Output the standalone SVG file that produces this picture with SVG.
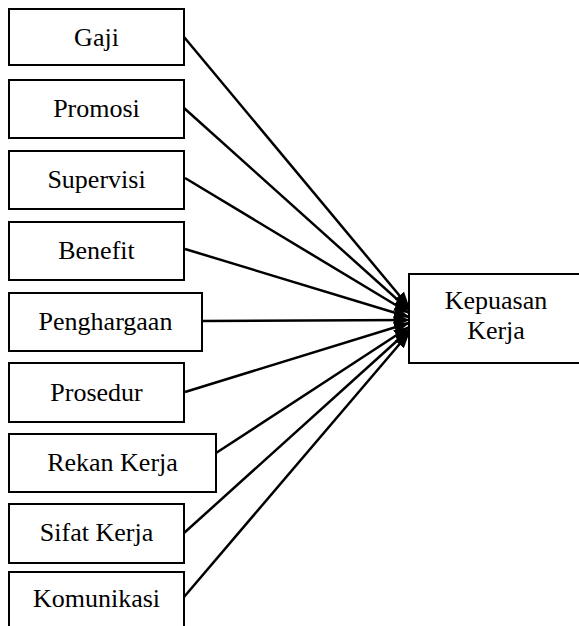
<svg xmlns="http://www.w3.org/2000/svg" width="579" height="626" viewBox="0 0 579 626">
<style>
.box{fill:#fff;stroke:#000;stroke-width:2}
.lbl{font-family:"Liberation Serif","Times New Roman",serif;font-size:26px;fill:#000;text-anchor:middle}
.con{stroke:#000;stroke-width:2.5;fill:none}
</style>
<defs>
<marker id="ah" markerUnits="userSpaceOnUse" markerWidth="16" markerHeight="12" refX="15" refY="6" orient="auto">
<path d="M0,0 L16,6 L0,12 Z" fill="#000"/>
</marker>
</defs>
<rect width="579" height="626" fill="#fff"/>
<g id="connectors">
<line class="con" x1="184" y1="37" x2="409" y2="307" marker-end="url(#ah)"/>
<line class="con" x1="184" y1="108" x2="409" y2="310" marker-end="url(#ah)"/>
<line class="con" x1="185" y1="178" x2="409" y2="313" marker-end="url(#ah)"/>
<line class="con" x1="185" y1="249" x2="409" y2="317" marker-end="url(#ah)"/>
<line class="con" x1="202" y1="321" x2="409" y2="320" marker-end="url(#ah)"/>
<line class="con" x1="185" y1="392" x2="409" y2="323" marker-end="url(#ah)"/>
<line class="con" x1="216" y1="453" x2="409" y2="327" marker-end="url(#ah)"/>
<line class="con" x1="184" y1="533" x2="409" y2="330" marker-end="url(#ah)"/>
<line class="con" x1="184" y1="597" x2="409" y2="333" marker-end="url(#ah)"/>
</g>
<g id="gaji"><rect class="box" x="9" y="9" width="175" height="56"/><text class="lbl" x="96.5" y="46">Gaji</text></g>
<g id="promosi"><rect class="box" x="9" y="80" width="175" height="58"/><text class="lbl" x="96.5" y="117">Promosi</text></g>
<g id="supervisi"><rect class="box" x="9" y="151" width="175" height="58"/><text class="lbl" x="96.5" y="188">Supervisi</text></g>
<g id="benefit"><rect class="box" x="9" y="222" width="175" height="58"/><text class="lbl" x="96.5" y="259">Benefit</text></g>
<g id="penghargaan"><rect class="box" x="9" y="293" width="193" height="58"/><text class="lbl" x="105.5" y="330">Penghargaan</text></g>
<g id="prosedur"><rect class="box" x="9" y="363" width="175" height="59"/><text class="lbl" x="96.5" y="401">Prosedur</text></g>
<g id="rekan-kerja"><rect class="box" x="9" y="434" width="207" height="58"/><text class="lbl" x="112.5" y="471">Rekan Kerja</text></g>
<g id="sifat-kerja"><rect class="box" x="9" y="504" width="175" height="59"/><text class="lbl" x="96.5" y="541">Sifat Kerja</text></g>
<g id="komunikasi"><rect class="box" x="9" y="572" width="175" height="70"/><text class="lbl" x="96.5" y="607">Komunikasi</text></g>
<g id="kepuasan-kerja"><rect class="box" x="409" y="274" width="180" height="89"/><text class="lbl" x="496" y="309">Kepuasan</text><text class="lbl" x="496" y="339">Kerja</text></g>
</svg>
